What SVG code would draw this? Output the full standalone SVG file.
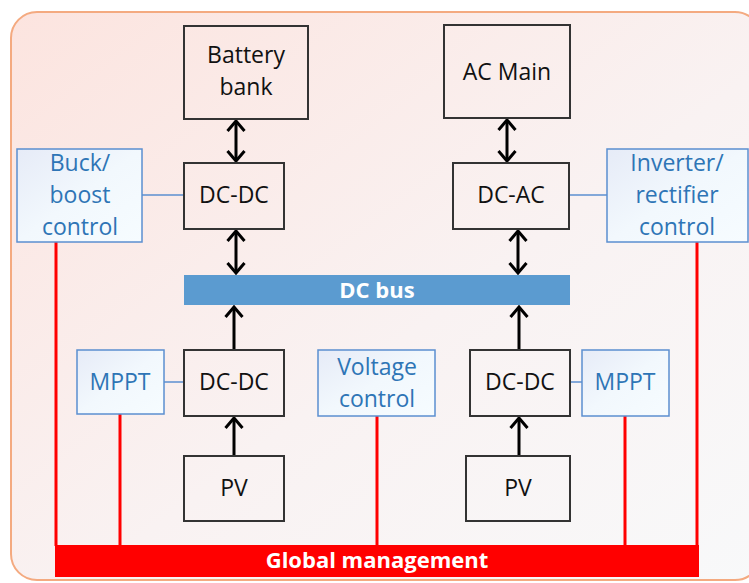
<svg xmlns="http://www.w3.org/2000/svg" width="749" height="583" viewBox="0 0 749 583">
<defs>
<linearGradient id="bg" x1="0" y1="0" x2="1" y2="1">
<stop offset="0" stop-color="#fce4df"/>
<stop offset="0.55" stop-color="#f9f2f2"/>
<stop offset="1" stop-color="#f8f9fa"/>
</linearGradient>
<linearGradient id="ctl" x1="0" y1="0" x2="1" y2="1">
<stop offset="0" stop-color="#e6ebf7"/>
<stop offset="0.5" stop-color="#f2f8fd"/>
<stop offset="1" stop-color="#f6fcff"/>
</linearGradient>
<marker id="ah" viewBox="0 0 14 20" refX="12" refY="10" markerWidth="14" markerHeight="20" markerUnits="userSpaceOnUse" orient="auto-start-reverse">
<path d="M2,1.5 L12,10 L2,18.5" fill="none" stroke="#000" stroke-width="3"/>
</marker>
<style>
.node{fill:none;stroke:#333;stroke-width:2}
.ctl{fill:url(#ctl);stroke:#5b8fd0;stroke-width:1.5}
.t{font-family:"Open Sans","Noto Sans",sans-serif;font-size:23px;fill:#111;text-anchor:middle}
.b{font-family:"Open Sans","Noto Sans",sans-serif;font-size:23px;fill:#2e75b6;text-anchor:middle}
.w{font-family:"Open Sans","Noto Sans",sans-serif;font-size:22px;font-weight:bold;fill:#fff;text-anchor:middle}
.arr{stroke:#000;stroke-width:3;fill:none}
.red{stroke:#ff0000;stroke-width:3;fill:none}
.blu{stroke:#5b8fd0;stroke-width:1.5;fill:none}
</style>
</defs>
<rect x="11" y="12" width="750" height="568" rx="26" fill="url(#bg)" stroke="#f4aa80" stroke-width="2"/>

<g id="connectors">
<line class="arr" x1="236" y1="121" x2="236" y2="161" marker-start="url(#ah)" marker-end="url(#ah)"/>
<line class="arr" x1="236" y1="231" x2="236" y2="273" marker-start="url(#ah)" marker-end="url(#ah)"/>
<line class="arr" x1="507" y1="120" x2="507" y2="161" marker-start="url(#ah)" marker-end="url(#ah)"/>
<line class="arr" x1="518" y1="231" x2="518" y2="273" marker-start="url(#ah)" marker-end="url(#ah)"/>
<line class="arr" x1="234" y1="350" x2="234" y2="307" marker-end="url(#ah)"/>
<line class="arr" x1="234" y1="456" x2="234" y2="418" marker-end="url(#ah)"/>
<line class="arr" x1="519" y1="350" x2="519" y2="307" marker-end="url(#ah)"/>
<line class="arr" x1="519" y1="456" x2="519" y2="418" marker-end="url(#ah)"/>
<line class="blu" x1="142" y1="195" x2="184" y2="195"/>
<line class="blu" x1="569" y1="195" x2="607" y2="195"/>
<line class="blu" x1="164" y1="382" x2="184" y2="382"/>
<line class="blu" x1="570" y1="382" x2="582" y2="382"/>
<line class="red" x1="56" y1="242" x2="56" y2="546"/>
<line class="red" x1="120" y1="414" x2="120" y2="546"/>
<line class="red" x1="377" y1="416" x2="377" y2="546"/>
<line class="red" x1="625" y1="416" x2="625" y2="546"/>
<line class="red" x1="697" y1="242" x2="697" y2="546"/>
</g>

<g id="battery"><rect class="node" x="184" y="26" width="124" height="93"/><text class="t" x="246" y="63">Battery</text><text class="t" x="246" y="95">bank</text></g>
<g id="acmain"><rect class="node" x="444" y="25" width="126" height="93"/><text class="t" x="507" y="80">AC Main</text></g>
<g id="dcdc-top"><rect class="node" x="184" y="163" width="100" height="66"/><text class="t" x="234" y="203">DC-DC</text></g>
<g id="dcac"><rect class="node" x="453" y="163" width="116" height="66"/><text class="t" x="511" y="203">DC-AC</text></g>
<g id="buck"><rect class="ctl" x="17" y="149" width="125" height="93"/><text class="b" x="80" y="171">Buck/</text><text class="b" x="80" y="203">boost</text><text class="b" x="80" y="235">control</text></g>
<g id="inverter"><rect class="ctl" x="607" y="149" width="141" height="93"/><text class="b" x="677" y="171">Inverter/</text><text class="b" x="677" y="203">rectifier</text><text class="b" x="677" y="235">control</text></g>
<g id="dcbus"><rect x="184" y="275" width="386" height="30" fill="#5b9bd0"/><text class="w" x="377" y="298">DC bus</text></g>
<g id="dcdc-left"><rect class="node" x="184" y="350" width="100" height="66"/><text class="t" x="234" y="390">DC-DC</text></g>
<g id="mppt-left"><rect class="ctl" x="77" y="350" width="87" height="64"/><text class="b" x="120" y="390">MPPT</text></g>
<g id="pv-left"><rect class="node" x="184" y="456" width="100" height="65"/><text class="t" x="234" y="496">PV</text></g>
<g id="voltage"><rect class="ctl" x="318" y="350" width="117" height="66"/><text class="b" x="377" y="375">Voltage</text><text class="b" x="377" y="407">control</text></g>
<g id="dcdc-right"><rect class="node" x="470" y="350" width="100" height="66"/><text class="t" x="520" y="390">DC-DC</text></g>
<g id="mppt-right"><rect class="ctl" x="582" y="350" width="87" height="66"/><text class="b" x="625" y="390">MPPT</text></g>
<g id="pv-right"><rect class="node" x="466" y="456" width="104" height="65"/><text class="t" x="518" y="496">PV</text></g>
<g id="global"><rect x="55" y="545" width="644" height="32" fill="#ff0000"/><text class="w" x="377" y="568">Global management</text></g>
</svg>
